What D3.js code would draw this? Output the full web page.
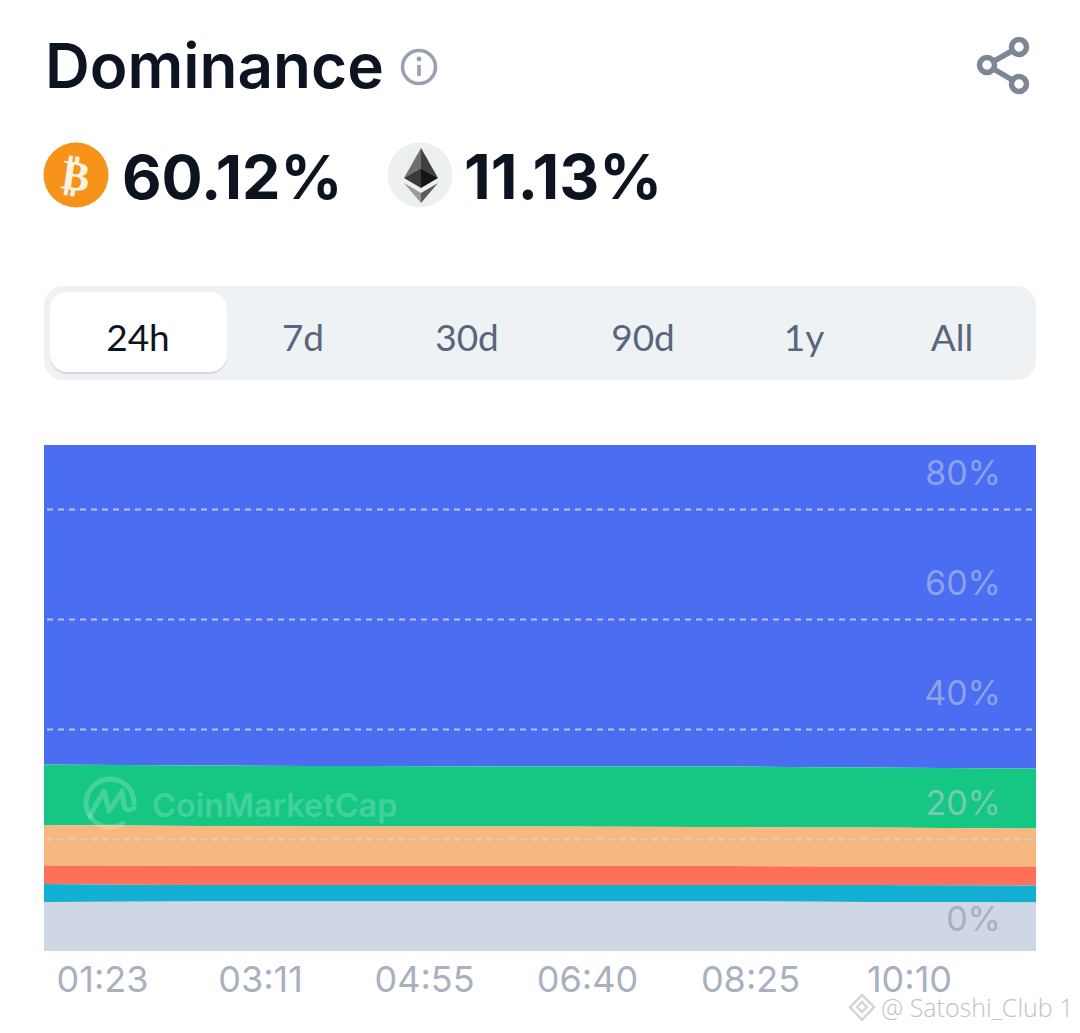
<!DOCTYPE html>
<html>
<head>
<meta charset="utf-8">
<script src="https://cdn.jsdelivr.net/npm/d3@7/dist/d3.min.js"></script>
<style>
html,body{margin:0;padding:0;background:#fff;}
svg{display:block;}
text{font-family:Inter,"Noto Sans",sans-serif;}
</style>
</head>
<body>
<svg id="chart" width="1080" height="1033"></svg>
<script>
// ---- data ----
const times = ["00:45","02:30","04:21","06:10","07:53","09:44","11:33"];
const others = [8.55,8.64,8.64,8.64,8.64,8.55,8.45];
const teal   = [3.27,3.00,3.00,3.00,3.00,3.09,3.10];
const red    = [3.36,3.45,3.45,3.45,3.45,3.36,3.45];
const orange = [7.37,7.27,7.18,7.18,7.09,7.09,6.91];
const green  = [11.00,11.00,11.00,10.91,11.00,10.91,10.91];
const blue   = [60.12,60.12,60.12,60.12,60.12,60.12,60.12];
const seriesNames = ["others","teal","red","orange","green","blue"];
const seriesColors = ["#cfd6e4","#14b0d3","#fe7058","#f6b87e","#16c784","#4a6df2"];
const xTickLabels = ["01:23","03:11","04:55","06:40","08:25","10:10"];
const yTicks = [0,20,40,60,80];
const tabs = ["24h","7d","30d","90d","1y","All"];
const headline = ["60.12%","11.13%"];

const svg = d3.select("#chart");
const toMin = s => { const [h,m] = s.split(":").map(Number); return h*60+m; };

const x = d3.scaleLinear()
  .domain(["00:45",...xTickLabels,"11:33"].map(toMin))
  .range([44,102,260,424,587,750,909,1036]);
const y = d3.scaleLinear().domain([-0.36,91.64]).range([951,445]);

// ---- header ----
svg.append("text").attr("x",45).attr("y",88).attr("font-size",62).attr("font-weight",600)
  .attr("fill","#0d1421").text("Dominance");
const info = svg.append("g").attr("transform","translate(419,67)");
info.append("circle").attr("r",16.5).attr("fill","none").attr("stroke","#98a1b0").attr("stroke-width",3.5);
info.append("circle").attr("cy",-8).attr("r",2.4).attr("fill","#98a1b0");
info.append("line").attr("y1",-2).attr("y2",9).attr("stroke","#98a1b0").attr("stroke-width",3.6);

const share = svg.append("g").attr("fill","none").attr("stroke","#7d8694").attr("stroke-width",5.5);
share.append("path").attr("d","M1019,47L987,65L1019,84");
[[1019,47],[987,65],[1019,84]].forEach(p=>share.append("circle").attr("cx",p[0]).attr("cy",p[1]).attr("r",7.5).attr("fill","#fff"));

svg.append("circle").attr("cx",76).attr("cy",175).attr("r",32.5).attr("fill","#f7931a");
svg.append("text").attr("x",76).attr("y",190).attr("text-anchor","middle").attr("font-size",42)
  .attr("font-weight",700).attr("fill","#fdf3e4").style("font-family","'DejaVu Sans'")
  .attr("transform","rotate(8 76 175)").text("₿");
svg.append("text").attr("x",122).attr("y",199).attr("font-size",61).attr("font-weight",700).attr("fill","#0d1421").text(headline[0]);

svg.append("circle").attr("cx",420).attr("cy",175).attr("r",32.5).attr("fill","#edf0f0");
[["M421,148L404,178L421,168Z","#6f6f6f"],["M421,148L438,178L421,168Z","#3f3f3f"],
 ["M404,178L421,168L421,188Z","#3a3a3a"],["M438,178L421,168L421,188Z","#161616"],
 ["M404,183L421,193L421,203Z","#9a9a9a"],["M438,183L421,193L421,203Z","#5c5c5c"]]
 .forEach(d=>svg.append("path").attr("d",d[0]).attr("fill",d[1]));
svg.append("text").attr("x",464).attr("y",199).attr("font-size",62).attr("font-weight",700).attr("fill","#0d1421").text(headline[1]);

// ---- tabs ----
svg.append("rect").attr("x",44).attr("y",286).attr("width",992).attr("height",94).attr("rx",20).attr("fill","#eff2f5");
svg.append("rect").attr("x",50).attr("y",293).attr("width",177).attr("height",81).attr("rx",17).attr("fill","#d3d9e3");
svg.append("rect").attr("x",50).attr("y",292).attr("width",177).attr("height",80).attr("rx",17).attr("fill","#fff");
const tabX = d3.scaleOrdinal().domain(tabs).range([138,303,467,643,804,952]);
svg.append("g").selectAll("text").data(tabs).join("text")
  .attr("x",d=>tabX(d)).attr("y",351).attr("text-anchor","middle").attr("font-size",37)
  .style("font-family","Lato,'Noto Sans',sans-serif")
  .attr("fill",(d,i)=>i===0?"#0d1421":"#58667e").text(d=>d);

// ---- stacked areas ----
const table = times.map((t,i)=>({t:toMin(t),others:others[i],teal:teal[i],red:red[i],orange:orange[i],green:green[i],blue:blue[i]}));
const stacked = d3.stack().keys(seriesNames)(table);
svg.append("clipPath").attr("id","plot").append("rect").attr("x",44).attr("y",445).attr("width",992).attr("height",506);
const area = d3.area().x(d=>x(d.data.t)).y1(d=>y(d[1])).curve(d3.curveMonotoneX);
const color = d3.scaleOrdinal().domain(seriesNames).range(seriesColors);
// blue first so that each lower band sits on top of the one above it
svg.append("g").attr("clip-path","url(#plot)").selectAll("path").data(stacked.slice().reverse()).join("path")
  .attr("fill",d=>color(d.key))
  .attr("d",d=>area.y0(p=>d.key==="others"?y.range()[0]:y(p[0]))(d));

// ---- y axis: gridlines + labels ----
const yAxis = svg.append("g").attr("transform","translate(1032,0)")
  .call(d3.axisLeft(y).tickValues(yTicks).tickSize(988).tickFormat(d=>d+"%"));
yAxis.select(".domain").remove();
yAxis.selectAll(".tick line").attr("stroke","#ccd3e0").attr("stroke-opacity",d=>d===0?0:0.85)
  .attr("stroke-width",2).attr("stroke-dasharray","6 5");
yAxis.selectAll(".tick text")
  .attr("x",-31).attr("dy",null).attr("y",d=>d===0?-19:-25).attr("text-anchor","end")
  .attr("font-size",34).attr("font-weight",400)
  .style("font-family","Inter,sans-serif")
  .attr("fill",d=>d===0?"#a6b0c3":"#c8cfe0").attr("fill-opacity",d=>d===0?1:0.55);

// ---- x axis ----
const xAxis = svg.append("g").attr("transform","translate(0,951)")
  .call(d3.axisBottom(x).tickValues(xTickLabels.map(toMin)).tickSize(0)
    .tickFormat((d,i)=>xTickLabels[i]));
xAxis.select(".domain").remove();
xAxis.selectAll("text").attr("dy",null).attr("y",41).attr("font-size",36)
  .style("font-family","Inter,sans-serif").attr("fill","#a8b1bf");

// ---- CoinMarketCap watermark ----
const wm = svg.append("g").attr("fill","none").attr("stroke","#fff").attr("stroke-opacity",0.2)
  .attr("stroke-width",5).attr("stroke-linecap","round").attr("stroke-linejoin","round");
wm.append("path").attr("d",d3.arc().innerRadius(24).outerRadius(24).startAngle(Math.PI*0.82).endAngle(Math.PI*2.5)())
  .attr("transform","translate(110,803)");
wm.append("path").attr("d","M90,816L104,791L109,811L122,791L124,806Q127,813 134,808");
svg.append("text").attr("x",152).attr("y",817).attr("font-size",32.5).attr("font-weight",600)
  .attr("fill","#fff").attr("fill-opacity",0.2).text("CoinMarketCap");

// ---- source watermark ----
const bn = svg.append("g").attr("fill","none").attr("stroke","#d6d6d6").attr("stroke-width",2.5);
bn.append("path").attr("d","M862,995L874,1007L862,1020L850,1007Z");
bn.append("path").attr("d","M862,1002L867,1007L862,1012L857,1007Z");
svg.append("text").attr("x",881).attr("y",1017).attr("font-size",25).attr("font-weight",300)
  .style("font-family","'Open Sans',sans-serif").attr("fill","#bfc2c6").text("@ Satoshi_Club 1");
</script>
</body>
</html>
